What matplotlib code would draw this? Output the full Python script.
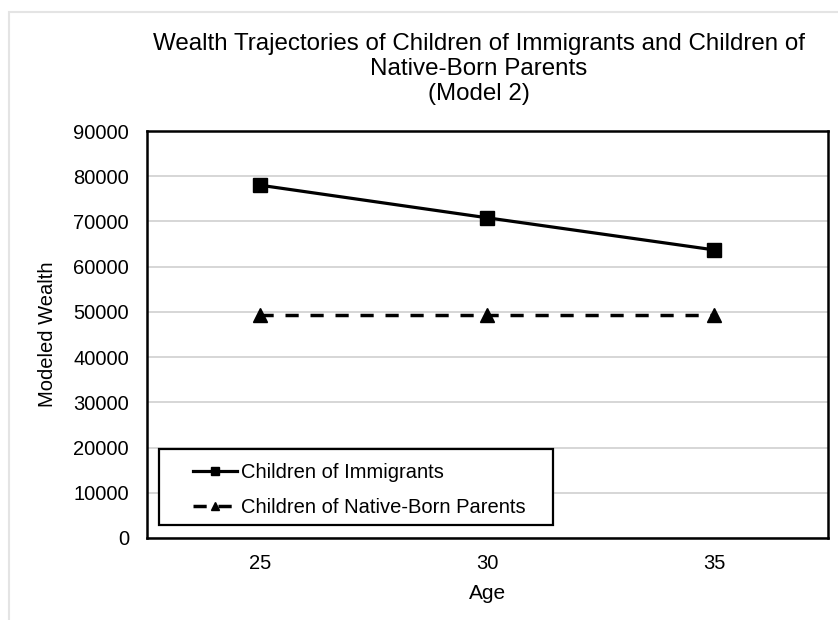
import matplotlib.pyplot as plt
from matplotlib.patches import Rectangle

plt.rcParams['font.family'] = ['Liberation Sans', 'DejaVu Sans']

ages = ['25', '30', '35']
immigrants = [78000, 70800, 63700]
native_born = [49400, 49400, 49400]
y_ticks = list(range(0, 90001, 10000))

fig = plt.figure(figsize=(8.38, 6.2), dpi=100)
fig.patches.append(Rectangle((9 / 838, -0.1), 1.2, 1.1 - 12 / 620,
                             transform=fig.transFigure, fill=False,
                             edgecolor='#e4e4e4', linewidth=1.5))

ax = fig.add_axes([0.1754, 0.1323, 0.8126, 0.6564])
x = range(len(ages))

ax.plot(x, immigrants, color='black', lw=2.3, marker='s', markersize=10.5,
        label='Children of Immigrants')
ax.plot(x, native_born, color='black', lw=2.5, marker='^', markersize=10.5,
        dashes=(3.8, 3.4), label='Children of Native-Born Parents')

ax.set_xlim(-0.5, 2.5)
ax.set_ylim(0, 90000)
ax.set_xticks(list(x))
ax.set_xticklabels(ages)
ax.set_yticks(y_ticks)
ax.tick_params(length=0, labelsize=14.5)
ax.tick_params(axis='y', pad=13)
ax.tick_params(axis='x', pad=11.5)
ax.yaxis.grid(True, color='#cfcfcf', lw=1.2)
ax.set_axisbelow(True)
for s in ax.spines.values():
    s.set_linewidth(1.8)

ax.set_xlabel('Age', fontsize=15, labelpad=8)
ax.set_ylabel('Modeled Wealth', fontsize=14.5, labelpad=12)
ax.set_title('Wealth Trajectories of Children of Immigrants and Children of\n'
             'Native-Born Parents\n(Model 2)', fontsize=17.4, pad=22,
             linespacing=1.2, x=0.4875)

# legend box drawn separately so the entries sit inset from its left edge
ax.add_patch(Rectangle((0.0176, 0.032), 0.578, 0.187, transform=ax.transAxes,
                       fill=True, facecolor='white', edgecolor='black',
                       linewidth=1.6, zorder=4))
leg = ax.legend(loc='center left', bbox_to_anchor=(0.0675, 0.118),
                fontsize=14.5, handlelength=2.2, handletextpad=0.2,
                borderpad=0, borderaxespad=0, labelspacing=0.8,
                frameon=False, markerscale=0.6)
leg.set_zorder(5)

fig.savefig('out.png', dpi=100)
